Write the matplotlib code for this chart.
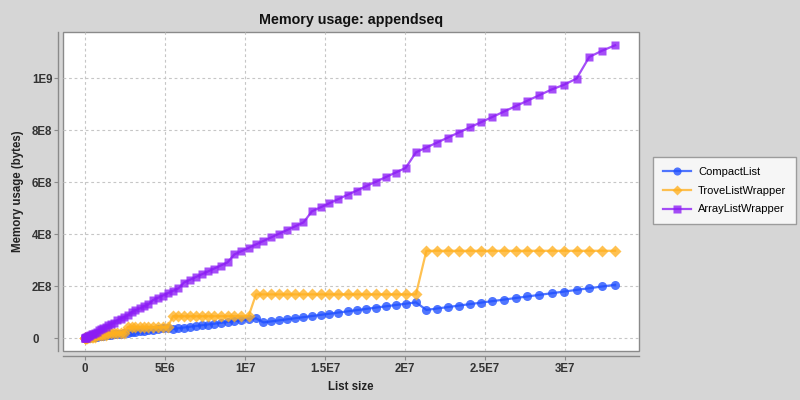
import matplotlib
matplotlib.use("Agg")
import matplotlib.pyplot as plt
import numpy as np

plt.rcParams['font.family'] = ['Liberation Sans', 'DejaVu Sans']

# list sizes in millions of elements
list_size_m = [
    0.000, 0.005, 0.020, 0.045, 0.081, 0.126, 0.182, 0.247, 0.323, 0.409,
    0.505, 0.611, 0.727, 0.853, 0.990, 1.136, 1.293, 1.459, 1.636, 1.823,
    2.020, 2.227, 2.444, 2.671, 2.909, 3.156, 3.414, 3.681, 3.959, 4.247,
    4.545, 4.853, 5.171, 5.499, 5.838, 6.186, 6.545, 6.913, 7.292, 7.681,
    8.080, 8.489, 8.908, 9.337, 9.777, 10.226, 10.686, 11.155, 11.635, 12.125,
    12.625, 13.135, 13.655, 14.185, 14.726, 15.276, 15.837, 16.407, 16.988, 17.579,
    18.180, 18.791, 19.412, 20.043, 20.685, 21.336, 21.998, 22.669, 23.351, 24.043,
    24.745, 25.457, 26.179, 26.911, 27.654, 28.406, 29.169, 29.941, 30.724, 31.517,
    32.320, 33.133,
]

# memory usage in units of 1E8 bytes
compact_e8 = [
    0.000, 0.0004, 0.0015, 0.0035, 0.006, 0.010, 0.014, 0.019, 0.025, 0.031,
    0.038, 0.046, 0.055, 0.065, 0.075, 0.086, 0.098, 0.111, 0.124, 0.139,
    0.154, 0.169, 0.186, 0.203, 0.221, 0.240, 0.259, 0.280, 0.301, 0.323,
    0.345, 0.369, 0.393, 0.349, 0.375, 0.403, 0.431, 0.459, 0.489, 0.519,
    0.550, 0.582, 0.615, 0.648, 0.683, 0.718, 0.754, 0.600, 0.639, 0.679,
    0.719, 0.760, 0.802, 0.845, 0.889, 0.934, 0.979, 1.025, 1.072, 1.120,
    1.169, 1.218, 1.268, 1.319, 1.371, 1.080, 1.134, 1.189, 1.245, 1.302,
    1.359, 1.418, 1.477, 1.537, 1.598, 1.660, 1.722, 1.786, 1.850, 1.915,
    1.981, 2.047,
]

trove_e8 = [
    0.0000, 0.0004, 0.0016, 0.0066, 0.0066, 0.0131, 0.0262, 0.0262, 0.0262, 0.0524,
    0.0524, 0.0524, 0.1049, 0.1049, 0.1049, 0.1049, 0.1049, 0.2097, 0.2097, 0.2097,
    0.2097, 0.2097, 0.2097, 0.4194, 0.4194, 0.4194, 0.4194, 0.4194, 0.4194, 0.4194,
    0.4194, 0.4194, 0.4194, 0.8389, 0.8389, 0.8389, 0.8389, 0.8389, 0.8389, 0.8389,
    0.8389, 0.8389, 0.8389, 0.8389, 0.8389, 0.8389, 1.6777, 1.6777, 1.6777, 1.6777,
    1.6777, 1.6777, 1.6777, 1.6777, 1.6777, 1.6777, 1.6777, 1.6777, 1.6777, 1.6777,
    1.6777, 1.6777, 1.6777, 1.6777, 1.6777, 3.3554, 3.3554, 3.3554, 3.3554, 3.3554,
    3.3554, 3.3554, 3.3554, 3.3554, 3.3554, 3.3554, 3.3554, 3.3554, 3.3554, 3.3554,
    3.3554, 3.3554,
]

arraylist_e8 = [
    0.0001, 0.0017, 0.0066, 0.0149, 0.0273, 0.0424, 0.0614, 0.0849, 0.1065, 0.1382,
    0.1655, 0.2066, 0.2397, 0.2919, 0.3307, 0.3725, 0.4414, 0.4889, 0.5392, 0.5925,
    0.6851, 0.7441, 0.8060, 0.8708, 0.9931, 1.0636, 1.1370, 1.2133, 1.2925, 1.4566,
    1.5415, 1.6293, 1.7199, 1.8135, 1.9099, 2.1323, 2.2345, 2.3395, 2.4475, 2.5583,
    2.6720, 2.7886, 2.9080, 3.2150, 3.3402, 3.4683, 3.5993, 3.7331, 3.8698, 4.0095,
    4.1519, 4.2973, 4.4455, 4.8736, 5.0276, 5.1844, 5.3442, 5.5068, 5.6724, 5.8407,
    6.0120, 6.1862, 6.3632, 6.5431, 7.1412, 7.3269, 7.5154, 7.7069, 7.9012, 8.0983,
    8.2984, 8.5013, 8.7071, 8.9158, 9.1274, 9.3418, 9.5592, 9.7400, 9.9800, 10.8100,
    11.0500, 11.2600,
]

x_ticks = [0, 5e6, 1e7, 1.5e7, 2e7, 2.5e7, 3e7]
x_tick_labels = ["0", "5E6", "1E7", "1.5E7", "2E7", "2.5E7", "3E7"]
y_ticks = [0, 2e8, 4e8, 6e8, 8e8, 1e9]
y_tick_labels = ["0", "2E8", "4E8", "6E8", "8E8", "1E9"]

BG = "#d6d6d6"
W, H = 800, 400
fig = plt.figure(figsize=(8, 4), dpi=100, facecolor=BG)
# plot area in pixels: left 63, right 639, top 32, bottom 351
ax = fig.add_axes([63 / W, 1 - 351 / H, 576 / W, 319 / H])
ax.set_facecolor("white")
ax.patch.set_edgecolor("#8a8a8a")
ax.patch.set_linewidth(1.0)

x = np.array(list_size_m) * 1e6
series = [
    ("CompactList", compact_e8, "#1f4fff", "o", 6.5),
    ("TroveListWrapper", trove_e8, "#ffb020", "D", 6.0),
    ("ArrayListWrapper", arraylist_e8, "#8c1cf5", "s", 6.0),
]
for name, vals, col, mk, ms in series:
    ax.plot(x, np.array(vals) * 1e8, color=col, lw=1.6, marker=mk, ms=ms,
            mec="none", alpha=0.78, label=name)

ax.set_xlim(-1.375e6, 34.625e6)
ax.set_ylim(-0.5e8, 11.77e8)
ax.set_xticks(x_ticks)
ax.set_xticklabels(x_tick_labels)
ax.set_yticks(y_ticks)
ax.set_yticklabels(y_tick_labels)

ax.grid(True, color="#c6c6c6", linestyle=(0, (2.5, 2.5)), linewidth=0.8)
ax.set_axisbelow(True)

for s in ("top", "right"):
    ax.spines[s].set_visible(False)
for s in ("left", "bottom"):
    ax.spines[s].set_position(("outward", 3.6))
    ax.spines[s].set_color("#8a8a8a")
    ax.spines[s].set_linewidth(1.0)

ax.tick_params(axis="both", colors="#8a8a8a", length=2.9, width=0.8,
               labelcolor="#333333", labelsize=8.3)
ax.tick_params(axis="x", pad=2.2)
ax.tick_params(axis="y", pad=15.8)
for lab in ax.get_xticklabels():
    lab.set_fontweight("bold")
for lab in ax.get_yticklabels():
    lab.set_fontweight("bold")
    lab.set_horizontalalignment("left")

ax.set_xlabel("List size", fontsize=8.3, fontweight="bold", color="#222222")
ax.xaxis.set_label_coords(0.5, (351 - 381) / 319)
ax.set_ylabel("Memory usage (bytes)", fontsize=8.3, fontweight="bold", color="#222222")
ax.yaxis.set_label_coords((24 - 63) / 576, 0.5)

fig.text(351 / W, 1 - 20 / H, "Memory usage: appendseq", ha="center", va="center",
         fontsize=10.3, fontweight="bold", color="#111111")

leg = fig.legend(loc="center left", bbox_to_anchor=(653 / W, 1 - 190.5 / H),
                 borderaxespad=0, frameon=True, fancybox=False, fontsize=8,
                 handlelength=2.55, handletextpad=0.6, labelspacing=0.8,
                 borderpad=0.9, markerscale=0.9)
leg.get_frame().set_edgecolor("#8a8a8a")
leg.get_frame().set_linewidth(1.0)
leg.get_frame().set_facecolor("white")

fig.savefig("out.png", dpi=100, facecolor=BG)
